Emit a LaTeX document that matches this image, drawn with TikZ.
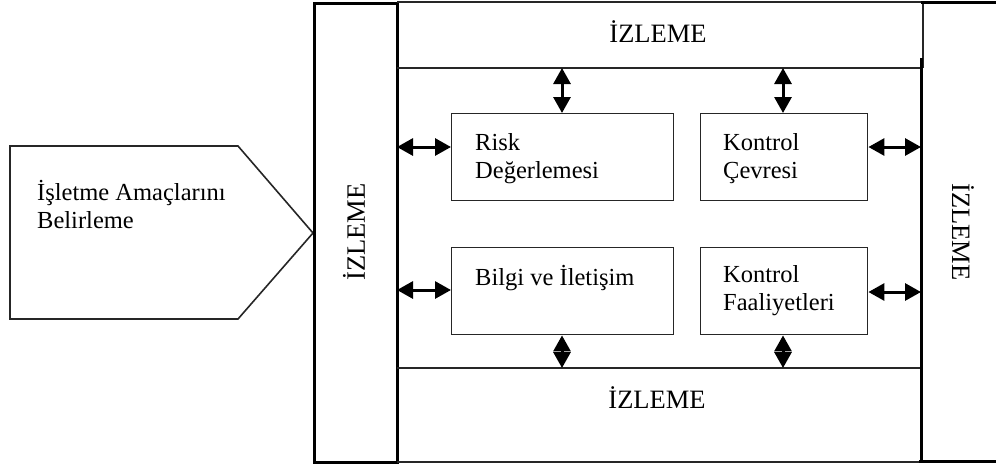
\documentclass[tikz,border=0pt]{standalone}
\usepackage{fontspec}
\setmainfont{Liberation Serif}
\usetikzlibrary{arrows.meta}
\begin{document}
\begin{tikzpicture}[x=1pt,y=-1pt,
  thinline/.style={line width=1.4pt, draw=black!85},
  thickline/.style={line width=3pt, draw=black},
  box/.style={draw=black!85, line width=1.4pt, minimum width=222pt, minimum height=87pt, inner sep=0pt, anchor=north west},
  boxtext/.style={font=\fontsize{24.5}{28}\selectfont, align=left, inner sep=0pt, anchor=north west},
  bandtext/.style={font=\fontsize{26.5}{30}\selectfont, inner sep=0pt},
  link/.style={line width=3pt, {Triangle[length=16pt,width=17pt]}-{Triangle[length=16pt,width=17pt]}}
]
\useasboundingbox (0,0) rectangle (996,467);

% objective-setting pentagon
\draw[line width=1.6pt, draw=black!85] (10,146) -- (238,146) -- (313,233) -- (238,319) -- (10,319) -- cycle;
\node[boxtext] (goal) at (37,180) {İşletme Amaçlarını\\Belirleme};

% monitoring frame: left column
\draw[thickline] (314,3) rectangle (397,462);
% top and bottom bands
\draw[thinline] (397,2) -- (923,2) -- (923,68);
\draw[thinline] (397,68) -- (921,68);
\draw[thinline] (397,368) -- (921,368);
\draw[thinline] (397,462) -- (921,462);
% right column
\draw[thickline] (921,58) -- (921,462);
\draw[thickline] (921,2) -- (999,2);
\draw[thickline] (919,461) -- (999,461);

% monitoring labels
\node[bandtext, anchor=base] (izTop) at (658,42) {İZLEME};
\node[bandtext, anchor=base] (izBottom) at (657,408) {İZLEME};
\node[bandtext, rotate=90] (izLeft) at (354,232) {İZLEME};
\node[bandtext, rotate=-90] (izRight) at (963,232) {İZLEME};

% component boxes
\node[box] (risk) at (451,113) {};
\node[box, minimum width=167pt] (cevre) at (700,113) {};
\node[box] (bilgi) at (451,247) {};
\node[box, minimum width=167pt] (faal) at (700,247) {};

\node[boxtext] (riskT) at (475,133) {Risk\\Değerlemesi};
\node[boxtext] (cevreT) at (723,133) {Kontrol\\Çevresi};
\node[boxtext, anchor=base west] (bilgiT) at (475,285) {Bilgi ve İletişim};
\node[boxtext] (faalT) at (723,265) {Kontrol\\Faaliyetleri};

% connection points on the monitoring frame
\coordinate (pL1) at (397,147);
\coordinate (pL2) at (397,290);
\coordinate (pR1) at (921,147);
\coordinate (pR2) at (921,292);
\coordinate (pT1) at (562,68);
\coordinate (pT2) at (783,68);
\coordinate (pB1) at (562,368);
\coordinate (pB2) at (783,368);

% two-way links
\draw[link] (pL1) -- (pL1 -| risk.west);
\draw[link] (pL2) -- (pL2 -| bilgi.west);
\draw[link] (cevre.east |- pR1) -- (pR1);
\draw[link] (faal.east |- pR2) -- (pR2);
\draw[link] (pT1) -- (pT1 |- risk.north);
\draw[link] (pT2) -- (pT2 |- cevre.north);
\draw[link] (pB1) -- (pB1 |- bilgi.south);
\draw[link] (pB2) -- (pB2 |- faal.south);
\end{tikzpicture}
\end{document}
